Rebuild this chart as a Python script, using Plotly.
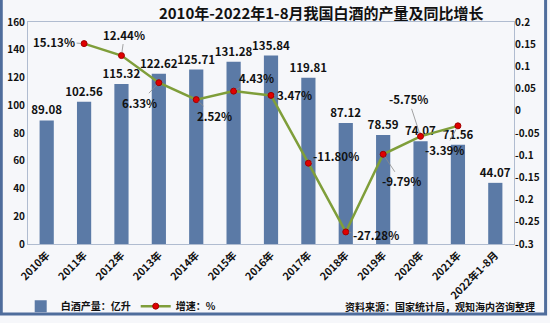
import plotly.graph_objects as go

categories = ["2010年", "2011年", "2012年", "2013年", "2014年", "2015年", "2016年",
              "2017年", "2018年", "2019年", "2020年", "2021年", "2022年1-8月"]
production = [89.08, 102.56, 115.32, 122.62, 125.71, 131.28, 135.84,
              119.81, 87.12, 78.59, 74.07, 71.56, 44.07]
growth = [None, 0.1513, 0.1244, 0.0633, 0.0252, 0.0443, 0.0347,
          -0.1180, -0.2728, -0.0979, -0.0575, -0.0339, None]
left_ticks = [0, 20, 40, 60, 80, 100, 120, 140, 160]
right_ticks = [0.2, 0.15, 0.1, 0.05, 0, -0.05, -0.1, -0.15, -0.2, -0.25, -0.3]
right_tick_labels = ["0.2", "0.15", "0.1", "0.05", "0", "-0.05", "-0.1", "-0.15", "-0.2", "-0.25", "-0.3"]

# label offsets (pixels) for growth labels
label_offsets = [None, (-30, -2), (3, -21), (-19, 20), (18, 16), (23, -13), (23, 0),
                 (28, -7), (30, 3), (18, 27), (-12, -37), (-13, 24), None]

FONT = "Noto Sans CJK SC"
bar_color = "#5B7AA6"
line_color = "#7F9E3A"
bg = "#F6F7FA"

fig = go.Figure()
fig.add_trace(go.Bar(
    x=categories, y=production, name="白酒产量：亿升",
    marker=dict(color=bar_color, line=dict(width=0)),
    width=0.38,
    text=[f"{v:.2f}" for v in production], textposition="outside",
    constraintext="none", cliponaxis=False,
    textfont=dict(family=FONT, size=11.5, color="#111111", weight="bold"),
    yaxis="y",
))
fig.add_trace(go.Scatter(
    x=categories, y=growth, name="增速：%", mode="lines+markers",
    line=dict(color=line_color, width=2.5),
    marker=dict(color="#E00000", size=6, line=dict(color="#A00000", width=1)),
    yaxis="y2", connectgaps=False,
))

annotations = []
for c, g, off in zip(categories, growth, label_offsets):
    if g is None:
        continue
    annotations.append(dict(
        x=c, y=g, xref="x", yref="y2", text=f"{g*100:.2f}%",
        showarrow=True, arrowhead=0, arrowwidth=0.8, arrowcolor="#8C8C8C",
        ax=off[0], ay=off[1], standoff=3,
        font=dict(family=FONT, size=11.5, color="#111111", weight="bold"),
    ))

annotations.append(dict(
    x=1.047, y=-0.28, xref="paper", yref="paper", xanchor="right", yanchor="middle",
    text="资料来源：国家统计局，观知海内咨询整理", showarrow=False,
    font=dict(family=FONT, size=10, color="#111111", weight="bold"),
))

# outer frame (left, right, bottom)
shapes = [dict(
    type="path", xref="paper", yref="paper",
    path="M -0.055,1.1 L -0.055,-0.315 L 1.065,-0.315 L 1.065,1.1",
    line=dict(color="#4F6D9C", width=3),
)]

fig.update_layout(
    width=550, height=323,
    margin=dict(l=28, r=36, t=22, b=79, autoexpand=False),
    paper_bgcolor=bg, plot_bgcolor=bg,
    title=dict(text="2010年-2022年1-8月我国白酒的产量及同比增长",
               x=0.584, y=0.957, xanchor="center", yanchor="middle",
               font=dict(family=FONT, size=15, color="#111111", weight="bold")),
    xaxis=dict(
        range=[-0.5, len(categories) - 0.5],
        tickangle=-45, showgrid=False, showline=True, linecolor="#B0BCD0", mirror=True,
        ticks="", automargin=False,
        tickfont=dict(family=FONT, size=10.5, color="#111111", weight="bold"),
    ),
    yaxis=dict(
        range=[0, 160], tickvals=left_ticks, showgrid=False, zeroline=False,
        showline=True, linecolor="#B0BCD0", mirror=True, ticks="", automargin=False,
        tickfont=dict(family=FONT, size=10, color="#111111", weight="bold"),
    ),
    yaxis2=dict(
        range=[-0.3, 0.2], tickvals=right_ticks, ticktext=right_tick_labels,
        overlaying="y", side="right", showgrid=False, zeroline=False, ticks="",
        automargin=False,
        tickfont=dict(family=FONT, size=10, color="#111111", weight="bold"),
    ),
    legend=dict(orientation="h", x=-0.015, y=-0.28, xanchor="left", yanchor="middle",
                bgcolor="rgba(0,0,0,0)", itemwidth=30,
                font=dict(family=FONT, size=10, color="#111111", weight="bold")),
    showlegend=True,
    annotations=annotations,
    shapes=shapes,
    bargap=0.6,
)

fig.write_html("out.html")
